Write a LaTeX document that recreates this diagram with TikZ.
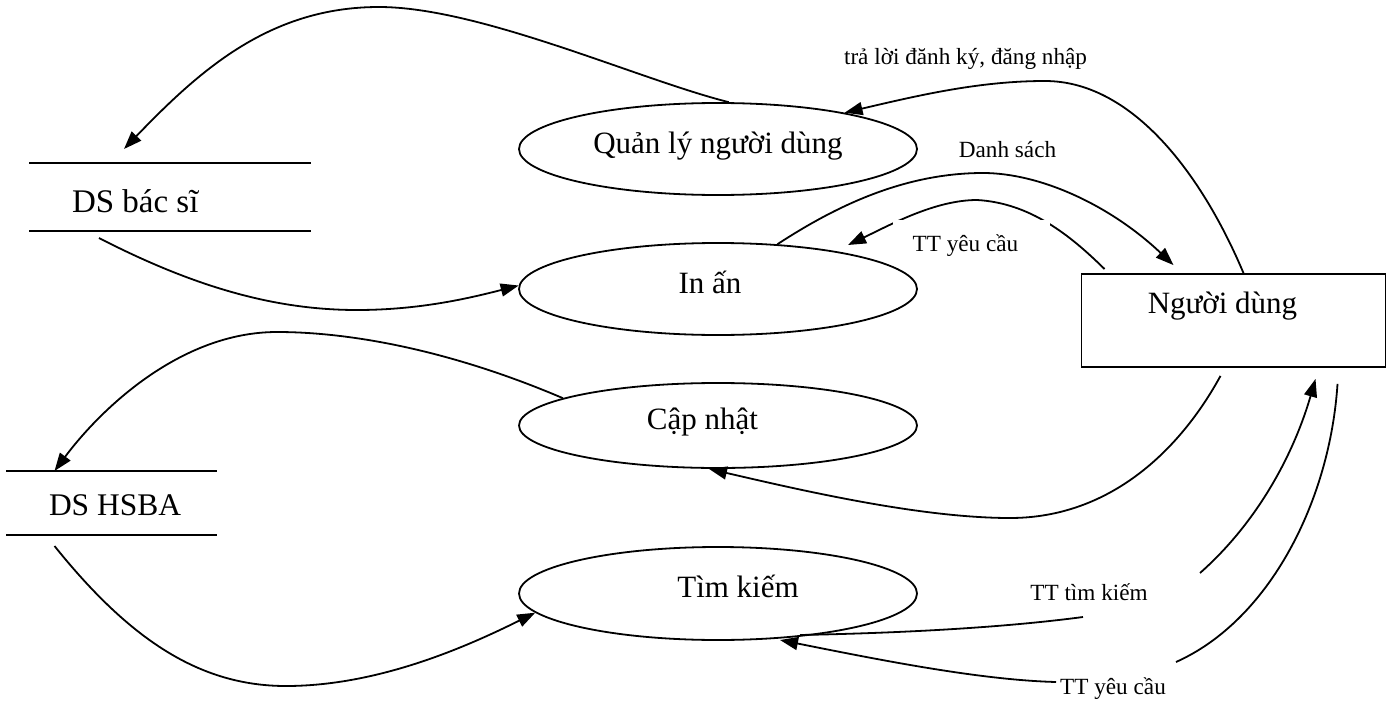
\documentclass[tikz,border=0pt]{standalone}
\usepackage{fontspec}
\setmainfont{Liberation Serif}
\usetikzlibrary{arrows.meta,calc,shapes.geometric}
\begin{document}
\begin{tikzpicture}[x=1pt,y=-1pt,
  proc/.style={draw,ellipse,line width=1.8pt,minimum width=398pt,minimum height=92pt,inner sep=0pt,font=\fontsize{31}{37}\selectfont,text height=16pt,text depth=8pt},
  ent/.style={draw,rectangle,line width=1.8pt,minimum width=304pt,minimum height=93pt,inner sep=0pt,font=\fontsize{31}{37}\selectfont,text height=5pt,text depth=20pt},
  store/.style={rectangle,inner sep=0pt,outer sep=0pt},
  storeline/.style={line width=2pt},
  flow/.style={line width=1.8pt,-{Triangle[length=18pt,width=13pt]}},
  flowline/.style={line width=1.8pt},
  lbl/.style={font=\fontsize{23.2}{28}\selectfont,inner sep=0pt,anchor=base},
]
\useasboundingbox (0,0) rectangle (1394,701);

% processes
\node[proc] (qly) at (718,149) {Quản lý người dùng};
\node[proc] (inan) at (718,289) {\hspace*{-16pt}In ấn};
\node[proc,minimum height=85pt] (capnhat) at (718,425.5) {\hspace*{-31pt}Cập nhật};
\node[proc,minimum height=93pt] (timkiem) at (718,593.5) {\hspace*{40pt}Tìm kiếm};

% entity
\node[ent] (user) at (1233.5,320.5) {\hspace*{-22pt}Người dùng};

% data stores
\node[store,minimum width=282pt,minimum height=68pt,text height=30pt,text depth=0pt,font=\fontsize{33}{39}\selectfont] (dsbs) at (170,197) {\makebox[282pt][l]{\hspace*{43pt}DS bác sĩ}};
\draw[storeline] (dsbs.north west) -- (dsbs.north east) (dsbs.south west) -- (dsbs.south east);
\node[store,minimum width=211pt,minimum height=64pt,text height=24pt,text depth=0pt,font=\fontsize{31.5}{38}\selectfont] (dshsba) at (111.5,503) {\makebox[211pt][l]{\hspace*{43pt}DS HSBA}};
\draw[storeline] (dshsba.north west) -- (dshsba.north east) (dshsba.south west) -- (dshsba.south east);

% flows
\draw[flow] (qly.77) .. controls (640,80) and (480,7) .. (379,7) .. controls (270,7) and (200,70) .. ($(dsbs.north)+(-46,-14)$);
\draw[flow] ($(dsbs.south)+(-71,7)$) .. controls (200,290) and (280,310) .. (357,310) .. controls (420,310) and (470,298) .. (inan.179);
\draw[flow] (capnhat.170) .. controls (450,350) and (350,332) .. (277,332) .. controls (180,332) and (100,410) .. ($(dshsba.north)+(-57,0)$);
\draw[flow] ($(dshsba.south)+(-57,11)$) .. controls (130,640) and (200,686) .. (286,686) .. controls (380,686) and (470,645) .. (timkiem.186);
\draw[flow] ($(user.north)+(10,0)$) .. controls (1200,170) and (1130,81) .. (1045,81) .. controls (980,81) and (920,95) .. (qly.16);
\draw[flow] (inan.37) .. controls (830,210) and (900,173) .. (983,173) .. controls (1040,173) and (1110,205) .. ($(user.north)+(-60,-8)$);
\draw[flow] ($(user.north west)+(24,-4)$) .. controls (1070,235) and (1030,203) .. (977,200) .. controls (935,200) and (890,225) .. ($(inan.center)+(130,-44)$);

\coordinate (h1) at (1083,617);
\coordinate (h2) at (1200,573);
\draw[flowline] ($(timkiem.center)+(82,41.5)$) .. controls (900,633) and (1000,628) .. (h1);
\draw[flow] (h2) .. controls (1260,520) and (1295,450) .. ($(user.south)+(82,11)$);

\coordinate (i1) at (1176,662);
\coordinate (i2) at (1056,682);
\draw[flowline] ($(user.south)+(104,16)$) .. controls (1330,500) and (1270,620) .. (i1);
\draw[flow] (i2) .. controls (980,680) and (880,660) .. ($(timkiem.center)+(62,46.5)$);

\draw[flow] ($(user.south)+(-13,8)$) .. controls (1180,450) and (1110,518) .. (1010,518) .. controls (920,518) and (800,490) .. ($(capnhat.south)+(-9,0)$);

% labels
\node[lbl] (t1) at (965.5,64) {trả lời đănh ký, đăng nhập};
\node[lbl] (t2) at (1007.5,157) {Danh sách};
\node[lbl,fill=white,anchor=center,minimum width=157pt,minimum height=42pt,text height=21pt,text depth=0pt] (t3) at (971.5,240.5) {\hspace*{-12pt}TT yêu cầu};
\node[lbl] (t4) at (1089,600) {TT tìm kiếm};
\node[lbl] (t5) at (1113,694) {TT yêu cầu};
\end{tikzpicture}
\end{document}
